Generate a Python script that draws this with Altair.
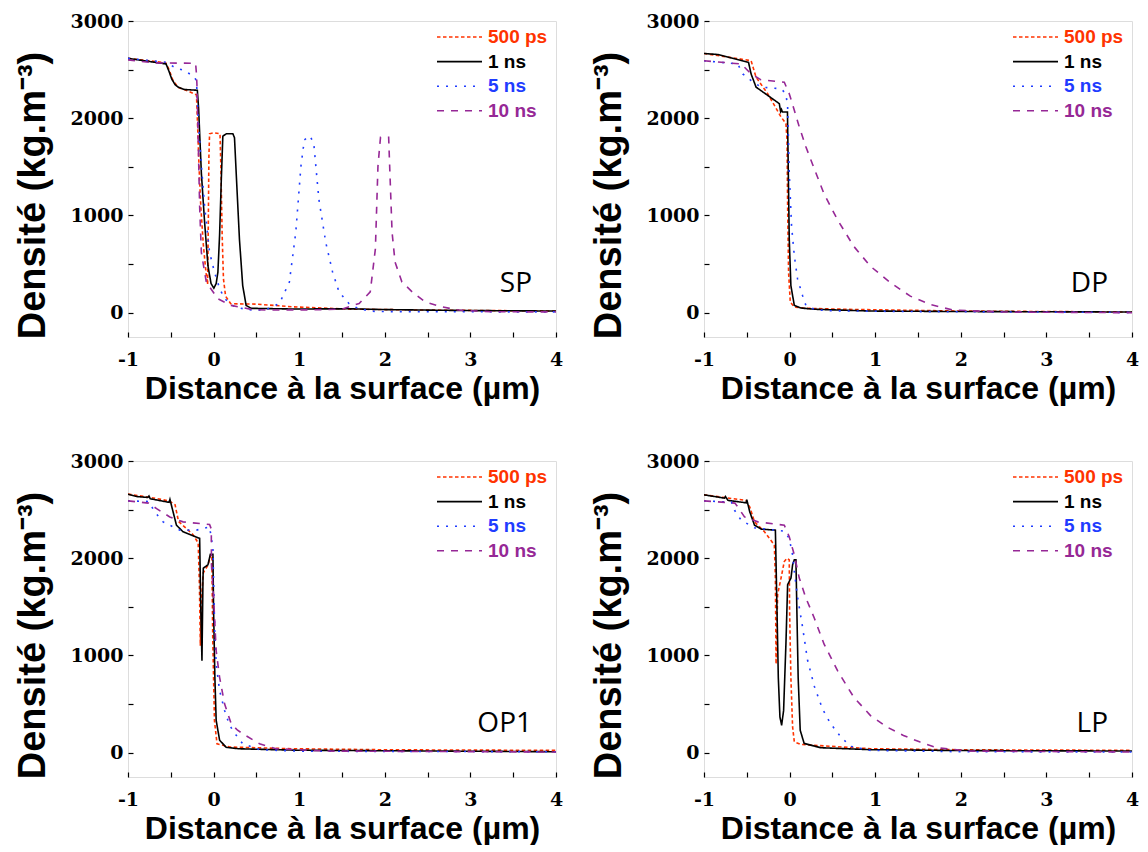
import altair as alt
import pandas as pd

# ---------------- data ----------------
SERIES = ["500 ps", "1 ns", "5 ns", "10 ns"]
COLORS = ["#ff3300", "#000000", "#1f3cff", "#962896"]
DASHES = [[3.5, 2.5], [1, 0], [2, 7], [7, 7]]
PANELS = ["SP", "DP", "OP1", "LP"]
X_TICKS = [-1, -0.5, 0, 0.5, 1, 1.5, 2, 2.5, 3, 3.5, 4]
Y_TICKS = [0, 500, 1000, 1500, 2000, 2500, 3000]

# --- SP ---
SP_500ps_x = [-1, -0.56, -0.52, -0.48, -0.42, -0.3, -0.2, -0.19, -0.17, -0.15, -0.12, -0.09, -0.07, -0.062, -0.055, -0.047, 0.0, 0.075, 0.085, 0.1, 0.115, 0.14, 0.2, 0.5, 0.92, 1.58, 2.47, 4]
SP_500ps_y = [2616, 2570, 2500, 2400, 2320, 2280, 2240, 2000, 1500, 1100, 700, 420, 290, 900, 1600, 1840, 1850, 1840, 1500, 800, 350, 170, 92, 88, 61, 37, 27, 17]
SP_1ns_x = [-1, -0.555, -0.52, -0.49, -0.45, -0.415, -0.34, -0.19, -0.175, -0.143, -0.105, -0.066, -0.03, 0.003, 0.03, 0.05, 0.07, 0.09, 0.108, 0.15, 0.225, 0.244, 0.264, 0.302, 0.34, 0.38, 0.44, 0.92, 1.58, 2.0, 2.47, 3.0, 4]
SP_1ns_y = [2616, 2558, 2480, 2405, 2345, 2320, 2295, 2288, 2100, 1436, 928, 483, 300, 252, 300, 415, 800, 1367, 1816, 1840, 1840, 1800, 1436, 755, 279, 75, 45, 38, 40, 32, 27, 22, 17]
SP_5ns_x = [-1, -0.55, -0.45, -0.337, -0.22, -0.2, -0.18, -0.136, -0.105, -0.047, 0.011, 0.07, 0.128, 0.244, 0.4, 0.6, 0.77, 0.885, 0.96, 1.02, 1.06, 1.125, 1.17, 1.23, 1.31, 1.39, 1.465, 1.58, 1.7, 1.89, 2.5, 4]
SP_5ns_y = [2616, 2575, 2520, 2490, 2421, 2380, 2000, 1436, 1095, 619, 415, 250, 143, 61, 30, 27, 95, 316, 826, 1505, 1777, 1818, 1743, 1165, 724, 418, 214, 95, 37, 12, 10, 8]
SP_10ns_x = [-1, -0.7, -0.21, -0.2, -0.195, -0.18, -0.163, -0.143, -0.085, 0.05, 0.205, 0.44, 0.6, 1.2, 1.5, 1.7, 1.83, 1.89, 1.92, 1.94, 1.95, 2.045, 2.057, 2.085, 2.12, 2.2, 2.32, 2.47, 2.66, 2.86, 3.24, 4]
SP_10ns_y = [2600, 2570, 2565, 2450, 2354, 1775, 1095, 619, 313, 143, 75, 34, 27, 30, 37, 95, 214, 656, 1505, 1709, 1804, 1804, 1505, 826, 520, 316, 214, 112, 61, 27, 10, 8]

# --- DP ---
DP_500ps_x = [-1, -0.45, -0.392, -0.256, -0.1, -0.043, -0.03, -0.023, -0.012, 0.008, 0.055, 0.2, 0.7, 1.0, 2.0, 4]
DP_500ps_y = [2666, 2592, 2422, 2252, 2013, 1946, 1775, 1095, 415, 109, 58, 45, 34, 30, 17, 7]
DP_1ns_x = [-1, -0.837, -0.48, -0.45, -0.392, -0.256, -0.12, -0.105, -0.095, -0.085, -0.025, -0.015, -0.004, 0.015, 0.055, 0.13, 0.3, 0.945, 2.0, 4]
DP_1ns_y = [2666, 2655, 2575, 2456, 2320, 2235, 2150, 2070, 2090, 2065, 2064, 1435, 755, 279, 75, 48, 35, 17, 12, 7]
DP_5ns_x = [-1, -0.605, -0.547, -0.45, -0.334, -0.1, -0.043, -0.023, -0.004, 0.023, 0.055, 0.093, 0.151, 0.19, 0.3, 0.48, 1.33, 4]
DP_5ns_y = [2591, 2558, 2456, 2388, 2320, 2303, 2252, 2116, 1435, 891, 585, 347, 177, 75, 30, 20, 12, 3]
DP_10ns_x = [-1, -0.566, -0.45, -0.334, -0.062, -0.004, 0.055, 0.113, 0.19, 0.25, 0.4, 0.56, 0.75, 0.945, 1.18, 1.41, 1.64, 1.91, 2.49, 4]
DP_10ns_y = [2591, 2558, 2456, 2395, 2371, 2252, 2082, 1911, 1707, 1568, 1227, 955, 682, 477, 307, 170, 85, 27, 7, 0]

# --- OP1 ---
OP1_500ps_x = [-1, -0.77, -0.52, -0.45, -0.41, -0.24, -0.18, -0.165, -0.155, -0.14, -0.12, -0.066, -0.03, -0.02, -0.01, 0.01, 0.04, 0.19, 0.92, 2.0, 4]
OP1_500ps_y = [2659, 2630, 2590, 2550, 2379, 2242, 2157, 1700, 1100, 1600, 1850, 1930, 2040, 2000, 1184, 331, 92, 58, 41, 30, 24]
OP1_1ns_x = [-1, -0.9, -0.77, -0.755, -0.74, -0.52, -0.51, -0.473, -0.434, -0.357, -0.163, -0.15, -0.136, -0.124, -0.12, -0.066, -0.038, -0.008, 0.0, 0.015, 0.03, 0.07, 0.147, 0.3, 1.0, 2.0, 3.0, 4]
OP1_1ns_y = [2659, 2635, 2625, 2640, 2612, 2575, 2605, 2476, 2340, 2272, 2204, 1500, 946, 1796, 1898, 1932, 2041, 2041, 1456, 775, 333, 129, 55, 40, 25, 20, 15, 10]
OP1_5ns_x = [-1, -0.76, -0.686, -0.59, -0.395, -0.2, -0.047, -0.008, 0.012, 0.03, 0.07, 0.128, 0.186, 0.264, 0.34, 0.54, 1.0, 4]
OP1_5ns_y = [2590, 2584, 2476, 2374, 2289, 2289, 2323, 2100, 1286, 911, 639, 435, 282, 180, 92, 31, 15, 10]
OP1_10ns_x = [-1, -0.76, -0.666, -0.512, -0.357, -0.047, -0.027, -0.025, 0.0, 0.03, 0.07, 0.128, 0.205, 0.28, 0.34, 0.536, 0.73, 1.31, 4]
OP1_10ns_y = [2590, 2567, 2510, 2425, 2374, 2347, 2300, 1932, 1600, 1048, 775, 503, 299, 231, 195, 92, 41, 17, 7]

# --- LP ---
LP_500ps_x = [-1, -0.51, -0.465, -0.41, -0.294, -0.178, -0.166, -0.158, -0.14, -0.1, -0.062, -0.031, -0.004, 0.0, 0.015, 0.035, 0.055, 0.13, 0.945, 2.0, 4]
LP_500ps_y = [2652, 2595, 2527, 2374, 2272, 2136, 1796, 911, 1626, 1796, 1966, 2000, 1983, 1456, 775, 265, 112, 85, 41, 30, 24]
LP_1ns_x = [-1, -0.76, -0.75, -0.72, -0.508, -0.5, -0.465, -0.41, -0.33, -0.166, -0.147, -0.132, -0.113, -0.093, -0.07, -0.043, -0.023, -0.004, 0.016, 0.035, 0.055, 0.074, 0.085, 0.1, 0.124, 0.17, 0.29, 0.365, 0.945, 2.0, 4]
LP_1ns_y = [2652, 2618, 2635, 2595, 2570, 2601, 2476, 2340, 2299, 2289, 1456, 775, 367, 282, 435, 1116, 1728, 1762, 1796, 1932, 1983, 1983, 1456, 775, 231, 95, 68, 51, 31, 22, 17]
LP_5ns_x = [-1, -0.68, -0.643, -0.566, -0.41, -0.178, -0.062, -0.004, 0.035, 0.055, 0.093, 0.15, 0.21, 0.29, 0.384, 0.48, 0.6, 0.713, 0.945, 2.0, 4]
LP_5ns_y = [2590, 2577, 2493, 2391, 2313, 2289, 2279, 2204, 2034, 1864, 1600, 1300, 950, 680, 450, 297, 160, 65, 24, 10, 7]
LP_10ns_x = [-1, -0.64, -0.605, -0.527, -0.372, -0.062, -0.004, 0.055, 0.113, 0.19, 0.287, 0.403, 0.56, 0.75, 0.945, 1.14, 1.33, 1.525, 1.72, 2.1, 4]
LP_10ns_y = [2590, 2567, 2527, 2425, 2374, 2340, 2221, 2034, 1796, 1592, 1388, 1116, 843, 570, 382, 263, 177, 109, 51, 17, 7]

CURVES = {
    "SP": [(SP_500ps_x, SP_500ps_y), (SP_1ns_x, SP_1ns_y), (SP_5ns_x, SP_5ns_y), (SP_10ns_x, SP_10ns_y)],
    "DP": [(DP_500ps_x, DP_500ps_y), (DP_1ns_x, DP_1ns_y), (DP_5ns_x, DP_5ns_y), (DP_10ns_x, DP_10ns_y)],
    "OP1": [(OP1_500ps_x, OP1_500ps_y), (OP1_1ns_x, OP1_1ns_y), (OP1_5ns_x, OP1_5ns_y), (OP1_10ns_x, OP1_10ns_y)],
    "LP": [(LP_500ps_x, LP_500ps_y), (LP_1ns_x, LP_1ns_y), (LP_5ns_x, LP_5ns_y), (LP_10ns_x, LP_10ns_y)],
}

# ---------------- chart ----------------
W, H = 428, 316
ONE = pd.DataFrame({"a": [0]})

x_axis = alt.Axis(
    values=X_TICKS,
    labelExpr="datum.value % 1 == 0 ? '' + datum.value : ''",
    title="Distance à la surface (µm)",
    titleFont="Liberation Sans", titleFontWeight="bold", titleFontSize=32,
    titlePadding=4, titleColor="black",
    labelFont="DejaVu Serif", labelFontWeight="bold", labelFontSize=19,
    labelPadding=13, labelColor="black", labelFlush=False, labelOverlap=False,
    tickSize=5, tickWidth=1.2, tickColor="black", offset=-5,
    domain=False, grid=False,
)
y_axis = alt.Axis(
    values=Y_TICKS,
    labelExpr="datum.value % 1000 == 0 ? '' + datum.value : ''",
    title="Densité (kg.m⁻³)",
    titleFont="Liberation Sans", titleFontWeight="bold", titleFontSize=38,
    titlePadding=18, titleColor="black", titleY=174,
    labelFont="DejaVu Serif", labelFontWeight="bold", labelFontSize=19,
    labelPadding=5, labelColor="black", labelOverlap=False,
    tickSize=5, tickWidth=1.2, tickColor="black", offset=-5,
    domain=False, grid=False,
)


def make_panel(name):
    rows = []
    for s, (xs, ys) in zip(SERIES, CURVES[name]):
        for i, (xv, yv) in enumerate(zip(xs, ys)):
            rows.append({"series": s, "x": xv, "y": yv, "i": i})
    df = pd.DataFrame(rows)
    lines = alt.Chart(df).mark_line(strokeWidth=1.6, clip=True).encode(
        x=alt.X("x:Q", scale=alt.Scale(domain=[-1, 4], nice=False, zero=False), axis=x_axis),
        y=alt.Y("y:Q", scale=alt.Scale(domain=[-250, 3000], nice=False, zero=False), axis=y_axis),
        color=alt.Color("series:N", scale=alt.Scale(domain=SERIES, range=COLORS), legend=None),
        strokeDash=alt.StrokeDash("series:N", scale=alt.Scale(domain=SERIES, range=DASHES), legend=None),
        order=alt.Order("i:Q"),
    )
    layers = [lines]
    for k, (s, c, d) in enumerate(zip(SERIES, COLORS, DASHES)):
        yk = 16 + 24.6 * k
        layers.append(
            alt.Chart(ONE).mark_rule(color=c, strokeWidth=1.6, strokeDash=d).encode(
                x=alt.value(309), x2=alt.value(354), y=alt.value(yk)
            )
        )
        layers.append(
            alt.Chart(ONE).mark_text(
                align="left", baseline="middle", font="Liberation Sans",
                fontWeight="bold", fontSize=19, color=c,
            ).encode(x=alt.value(360), y=alt.value(yk), text=alt.value(s))
        )
    layers.append(
        alt.Chart(ONE).mark_text(
            align="right", baseline="alphabetic", font="Open Sans",
            fontSize=28, color="black",
        ).encode(x=alt.value(404), y=alt.value(271), text=alt.value(name))
    )
    return alt.layer(*layers).properties(width=W, height=H)


chart = alt.concat(
    *[make_panel(p) for p in PANELS],
    columns=2,
    spacing={"row": 124, "column": 148},
    bounds="flush",
    padding={"left": 5, "top": 3, "right": 0, "bottom": 0},
).configure_view(stroke="#1a1a1a", strokeWidth=1.5).configure(background="white")

chart.save("out.html", embed_options={"renderer": "svg", "actions": False})
